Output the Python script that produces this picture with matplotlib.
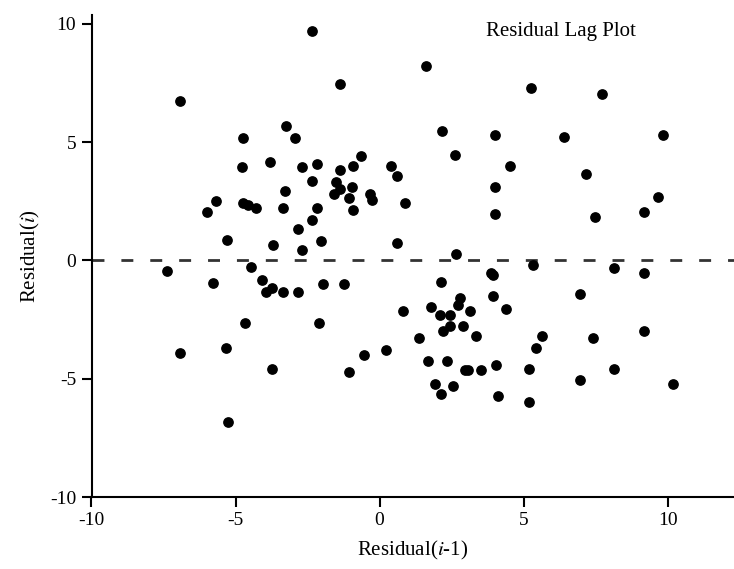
import matplotlib.pyplot as plt

plt.rcParams['font.family'] = ['Liberation Serif', 'DejaVu Serif']
plt.rcParams['mathtext.fontset'] = 'stix'
plt.rcParams['axes.unicode_minus'] = False

# residual(i-1), residual(i)
res_prev = [-2.35, -1.37, -6.93, -3.25, -4.73, -2.93, -0.64, -3.80, -2.16, -4.79,
            -2.68, -1.37, -0.91, 0.40, 0.62, -2.35, -1.51, -1.37, -0.97, -1.58,
            -3.28, -0.33, -0.25, -1.05, -0.91, 0.89, -5.68, -6.00, -4.73, -4.56,
            -4.30, -3.36, -2.16, -2.35, -2.82, -5.31, -3.69, -2.03, -2.70, 0.62,
            -7.37, -4.47,
            1.61, 5.26, 7.73, 2.18, 3.99, 6.41, 9.85, 2.62, 4.51, 7.16,
            3.99, 9.66, 9.19, 7.48, 3.99, 2.66, 5.31,
            8.14, 9.19, 3.86, 3.93, 2.12, 6.94, 3.93, 2.80, 2.71, 1.79,
            3.12, 4.38, 0.80, 2.08, 2.45, 2.45, 2.19, 2.91, 1.35, 3.34,
            5.63, 5.42, 7.40, 9.19, 1.67, 2.35, 2.97, 3.08, 3.51, 4.05,
            5.17, 8.14, 6.94, 10.18, 1.93, 2.53, 2.14, 4.10, 5.17,
            -5.79, -4.09, -3.74, -3.95, -3.36, -2.82, -1.95, -1.23, -4.67, -2.09,
            -6.93, -5.33, -3.74, -1.05, -0.53, 0.21, -5.25]
res_curr = [9.72, 7.48, 6.74, 5.67, 5.19, 5.19, 4.41, 4.15, 4.08, 3.97,
            3.97, 3.84, 4.01, 4.01, 3.59, 3.35, 3.33, 3.02, 3.12, 2.81,
            2.95, 2.81, 2.56, 2.64, 2.13, 2.45, 2.53, 2.06, 2.45, 2.36,
            2.24, 2.22, 2.22, 1.72, 1.35, 0.88, 0.64, 0.83, 0.45, 0.76,
            -0.45, -0.28,
            8.23, 7.31, 7.06, 5.46, 5.29, 5.22, 5.29, 4.48, 3.98, 3.66,
            3.09, 2.70, 2.06, 1.82, 1.96, 0.29, -0.20,
            -0.30, -0.52, -0.52, -0.62, -0.90, -1.41, -1.51, -1.58, -1.90, -1.97,
            -2.12, -2.03, -2.12, -2.29, -2.29, -2.78, -2.97, -2.78, -3.28, -3.21,
            -3.21, -3.70, -3.28, -2.97, -4.27, -4.24, -4.65, -4.65, -4.65, -4.41,
            -4.58, -4.58, -5.05, -5.22, -5.22, -5.30, -5.64, -5.75, -5.97,
            -0.94, -0.84, -1.15, -1.34, -1.34, -1.34, -1.01, -1.01, -2.64, -2.64,
            -3.91, -3.70, -4.58, -4.73, -4.01, -3.77, -6.84]

ticks = [-10, -5, 0, 5, 10]

fig = plt.figure(figsize=(7.34, 5.69), dpi=100)
ax = fig.add_axes([91.5 / 734, 72 / 569, 1 - 91.5 / 734, (497 - 15) / 569])

ax.scatter(res_prev, res_curr, s=45, color='black', zorder=3)
ax.axhline(0, color='#333333', lw=2, ls=(0, (4.3, 6.1)), zorder=2)

ax.set_xlim(-10, 12.3)
ax.set_ylim(-10, 10.38)
ax.set_xticks(ticks)
ax.set_yticks(ticks)
ax.spines['top'].set_visible(False)
ax.spines['right'].set_visible(False)
for s in ['left', 'bottom']:
    ax.spines[s].set_linewidth(1.5)
ax.tick_params(length=7, width=1.5, labelsize=14, pad=4)

ax.set_xlabel('Residual($\\mathit{i}$-1)', fontsize=15, labelpad=7)
ax.set_ylabel('Residual($\\mathit{i}$)', fontsize=15, labelpad=6)
ax.text(0.73, 0.985, 'Residual Lag Plot', transform=ax.transAxes,
        ha='center', va='top', fontsize=15)

fig.savefig('out.png', dpi=100)
